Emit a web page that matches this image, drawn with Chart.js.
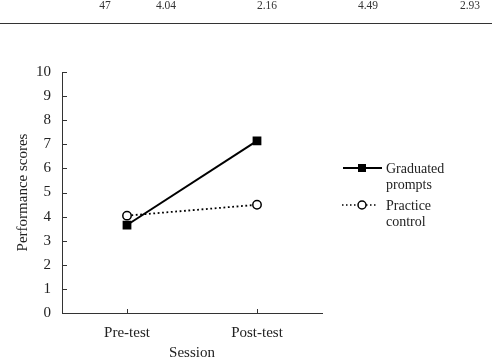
<!DOCTYPE html>
<html><head><meta charset="utf-8">
<script src="https://cdn.jsdelivr.net/npm/chart.js@4"></script>
<style>
html,body{margin:0;padding:0;background:#fff;}
#wrap{position:relative;width:492px;height:362px;overflow:hidden;font-family:"Liberation Serif","DejaVu Serif",serif;color:#222;}
canvas{position:absolute;left:0;top:0;}
.tt{position:absolute;top:-2px;font-size:11.5px;line-height:14px;transform:translateX(-50%);white-space:nowrap;color:#333;}
#rule{position:absolute;left:0;top:23px;width:492px;height:1px;background:#333;}
.lg{position:absolute;font-size:14px;line-height:16px;white-space:nowrap;}
</style></head>
<body><div id="wrap">
<canvas id="c" width="492" height="362"></canvas>
<div id="tableRow"></div>
<div id="rule"></div>
<div class="lg" style="left:386px;top:161px;">Graduated<br>prompts</div>
<div class="lg" style="left:386px;top:198px;">Practice<br>control</div>
</div>
<script>
const categories = ["Pre-test", "Post-test"];
const seriesNames = ["Graduated prompts", "Practice control"];
const graduatedPrompts = [3.65, 7.14];
const practiceControl = [4.04, 4.49];
const yTicks = [0,1,2,3,4,5,6,7,8,9,10];
const tableRowText = ["47", "4.04", "2.16", "4.49", "2.93"];
const tableRowX = [105, 166, 267, 368, 470];

const tr = document.getElementById('tableRow');
tableRowText.forEach((t,i)=>{const d=document.createElement('div');d.className='tt';d.style.left=tableRowX[i]+'px';d.textContent=t;tr.appendChild(d);});

const serif = "'Liberation Serif','DejaVu Serif',serif";

const innerTicks = {
  id:'innerTicks',
  beforeDatasetsDraw(chart){
    const ctx = chart.ctx, x = chart.scales.x, y = chart.scales.y;
    ctx.save();
    ctx.strokeStyle = '#333'; ctx.lineWidth = 1;
    ctx.beginPath();
    yTicks.forEach(v=>{const py=Math.round(y.getPixelForValue(v))+0.5; ctx.moveTo(x.left, py); ctx.lineTo(x.left+5, py);});
    categories.forEach((c,i)=>{const px=Math.round(x.getPixelForValue(i))+0.5; ctx.moveTo(px, y.bottom); ctx.lineTo(px, y.bottom-4);});
    ctx.stroke();
    ctx.restore();
  }
};

const legendSamples = {
  id:'legendSamples',
  afterDraw(chart){
    const ctx = chart.ctx;
    ctx.save();
    ctx.strokeStyle='#000';
    ctx.lineWidth=2; ctx.setLineDash([]);
    ctx.beginPath(); ctx.moveTo(343,168); ctx.lineTo(382,168); ctx.stroke();
    ctx.fillStyle='#000'; ctx.fillRect(358,164,8,8);
    ctx.lineWidth=1.5; ctx.setLineDash([1.5,2.5]);
    ctx.beginPath(); ctx.moveTo(342,205); ctx.lineTo(378,205); ctx.stroke();
    ctx.setLineDash([]);
    ctx.fillStyle='#fff'; ctx.beginPath(); ctx.arc(362,205,4,0,Math.PI*2); ctx.fill(); ctx.stroke();
    ctx.restore();
  }
};

new Chart(document.getElementById('c'), {
  type:'line',
  data:{
    labels:categories,
    datasets:[
      {label:seriesNames[0], data:graduatedPrompts, borderColor:'#000', borderWidth:2, pointStyle:'rect', pointRadius:6.2, pointBackgroundColor:'#000', pointBorderColor:'#000', pointBorderWidth:0, fill:false, tension:0},
      {label:seriesNames[1], data:practiceControl, borderColor:'#000', borderWidth:1.8, borderDash:[1.8,2.6], pointStyle:'circle', pointRadius:4.2, pointBackgroundColor:'#fff', pointBorderColor:'#000', pointBorderWidth:1.5, fill:false, tension:0}
    ]
  },
  options:{
    responsive:false, animation:false, devicePixelRatio:1,
    layout:{padding:{left:0, top:72, right:170, bottom:0}},
    plugins:{legend:{display:false}, tooltip:{enabled:false}},
    scales:{
      x:{
        offset:true,
        grid:{display:false, drawTicks:false},
        border:{display:true, color:'#333', width:1},
        ticks:{color:'#222', font:{family:serif, size:15}, padding:11},
        title:{display:true, text:'Session', color:'#222', font:{family:serif, size:15}, padding:{top:0,bottom:0}},
        afterFit(s){ s.height = 49; }
      },
      y:{
        min:0, max:10,
        grid:{display:false, drawTicks:false},
        border:{display:true, color:'#333', width:1},
        ticks:{stepSize:1, color:'#222', font:{family:serif, size:15}, padding:11},
        title:{display:true, text:'Performance scores', color:'#222', font:{family:serif, size:15}, padding:{top:14,bottom:0}},
        afterFit(s){ s.width = 62; }
      }
    }
  },
  plugins:[innerTicks, legendSamples]
});
</script>
</body></html>
